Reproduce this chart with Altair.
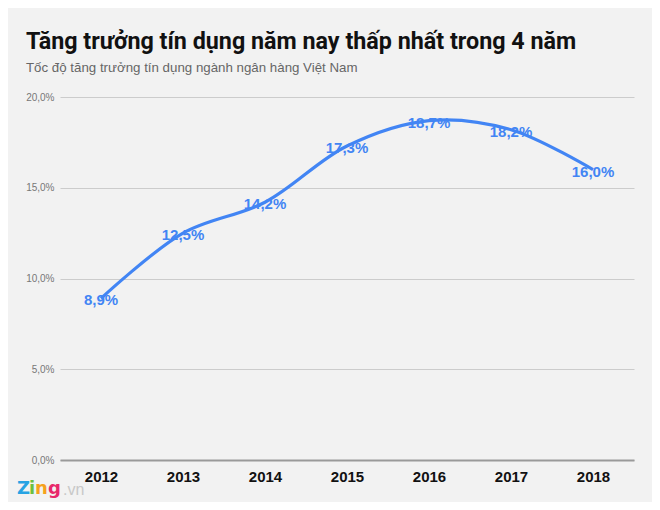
import altair as alt
import pandas as pd

years = ["2012", "2013", "2014", "2015", "2016", "2017", "2018"]
growth = [8.9, 12.5, 14.2, 17.3, 18.7, 18.2, 16.0]
y_ticks = [0, 5, 10, 15, 20]

title_text = "Tăng trưởng tín dụng năm nay thấp nhất trong 4 năm"
subtitle_text = "Tốc độ tăng trưởng tín dụng ngành ngân hàng Việt Nam"

logo_letters = ["Z", "i", "n", "g"]
logo_colors = ["#27a3e3", "#6cbf3f", "#f5a21c", "#e8286b"]
logo_suffix = ".vn"

df = pd.DataFrame({
    "year": years,
    "growth": growth,
    "label": [f"{v:.1f}%".replace(".", ",") for v in growth],
})

BLUE = "#4285f4"

x = alt.X("year:O", title=None,
          scale=alt.Scale(type="point", padding=0.5),
          axis=alt.Axis(labelAngle=0, labelFontSize=15, labelFontWeight="bold",
                        labelColor="#111111", labelFont="Liberation Sans",
                        labelPadding=9, ticks=False, domain=True,
                        domainColor="#9a9a9a", domainWidth=2, grid=False))
y = alt.Y("growth:Q", title=None,
          scale=alt.Scale(domain=[0, 20], nice=False),
          axis=alt.Axis(values=y_ticks, ticks=False, domain=False,
                        labelExpr="replace(format(datum.value, '.1f'), '.', ',') + '%'",
                        labelFontSize=10, labelColor="#777777", labelPadding=6,
                        labelFont="Liberation Sans",
                        gridColor="#cccccc", gridWidth=1))

base = alt.Chart(df)

line = base.mark_line(interpolate="catmull-rom", color=BLUE, strokeWidth=3.2).encode(x=x, y=y)

labels = base.mark_text(fontSize=15, fontWeight="bold", color=BLUE,
                        font="Liberation Sans", dy=2).encode(
    x=x, y=y, text="label:N")

# watermark logo (decoration, placed below-left of the plot area)
one = pd.DataFrame({"k": [0]})
logo_layers = []
lx = -43
advance = {"Z": 12, "i": 6, "n": 13, "g": 14}
for letter, col in zip(logo_letters, logo_colors):
    logo_layers.append(
        alt.Chart(one).mark_text(text=letter, fontSize=18, fontWeight="bold",
                                 font="DejaVu Sans", color=col, align="left",
                                 baseline="middle").encode(x=alt.value(lx), y=alt.value(392))
    )
    lx += advance[letter]
logo_layers.append(
    alt.Chart(one).mark_text(text=logo_suffix, fontSize=16, color="#c8c8c8",
                             font="Liberation Sans", align="left",
                             baseline="middle").encode(x=alt.value(lx + 1), y=alt.value(393))
)

chart = alt.layer(line, labels, *logo_layers).properties(
    width=574, height=363,
    title=alt.Title(title_text, subtitle=subtitle_text, anchor="start",
                    fontSize=23.3, font="Roboto", fontWeight="bold",
                    color="#111111", subtitleFontSize=13.3,
                    subtitleFont="Liberation Sans", subtitleColor="#666666",
                    subtitlePadding=6, offset=17, dx=9),
).properties(
    autosize=alt.AutoSizeParams(type="none"),
    padding={"left": 52, "top": 89, "right": 18, "bottom": 42},
).configure(background="#f2f2f2").configure_view(stroke=None)

chart.save("out.html", embed_options={"renderer": "svg", "actions": False})
